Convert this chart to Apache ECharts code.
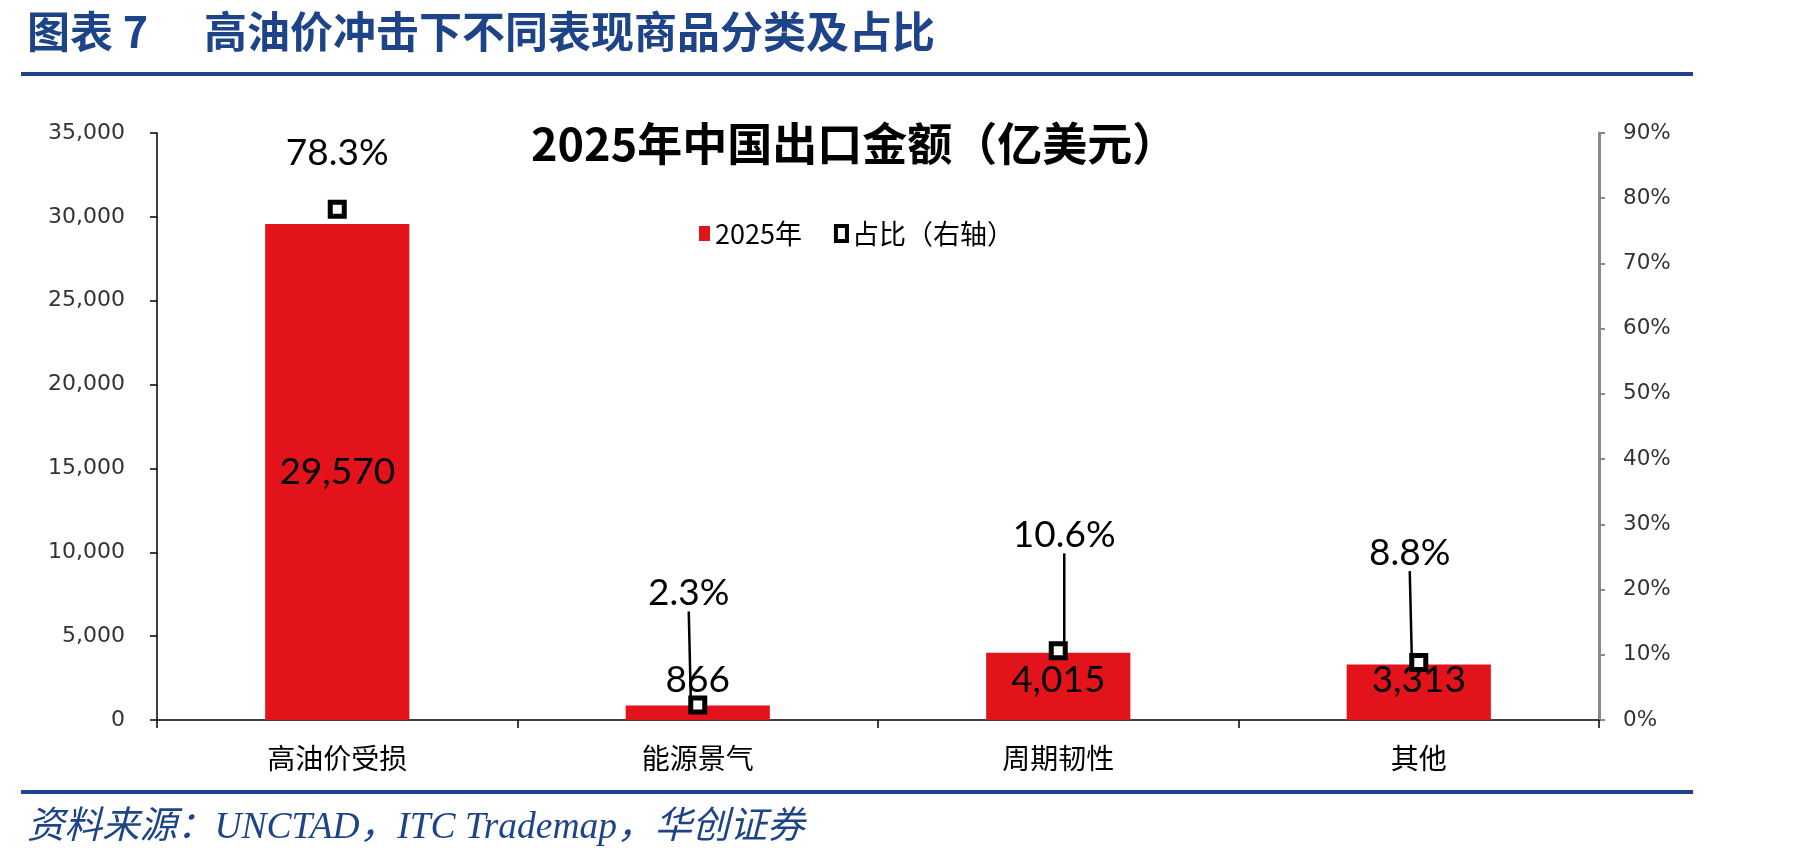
<!DOCTYPE html>
<html>
<head>
	<meta charset="UTF-8">
	<title>高油价冲击下不同表现商品分类及占比</title>
	<style type="text/css">
		html, body {
			margin: 0;
			padding: 0;
			background: #fff;
		}
		#chart {
			width: 1801px;
			height: 861px;
		}
	</style>
</head>
<body>
	<div id="chart"></div>

	<script type="text/javascript" src="https://cdn.jsdelivr.net/npm/echarts@6/dist/echarts.min.js"></script>
	<script type="text/javascript">
		// 数据
		var categories = ['高油价受损', '能源景气', '周期韧性', '其他'];
		var exportValues = [29570, 866, 4015, 3313];      // 2025年出口金额（亿美元）
		var shareValues = [78.3, 2.3, 10.6, 8.8];         // 占比 %
		var leftTicks = [0, 35000, 5000];                 // min, max, interval
		var rightTicks = [0, 90, 10];

		// 标签上移距离（像素）
		var shareLabelLift = [56, 112, 116, 110];
		var shareLabelShift = [0, -9, 6, -9];

		var blue = '#1D4389';
		var chart = echarts.init(document.getElementById('chart'));

		function fmtThousands (v) {
			return String(v).replace(/\B(?=(\d{3})+(?!\d))/g, ',');
		}

		var barData = exportValues.map(function (v, i) {
			if (i === 0) return v;
			return {
				value: v,
				label: { position: 'insideBottom', distance: 21 }
			};
		});

		var shareData = shareValues.map(function (v, i) {
			return {
				value: v,
				labelLine: { show: i !== 0 }
			};
		});

		var option = {
			backgroundColor: '#fff',
			animation: false,
			title: [
				{
					text: '图表 7',
					left: 22,
					top: 5,
					textStyle: {
						fontFamily: 'Noto Sans CJK SC',
						fontWeight: 'bold',
						fontSize: 43,
						color: blue
					}
				},
				{
					text: '高油价冲击下不同表现商品分类及占比',
					left: 199,
					top: 5,
					textStyle: {
						fontFamily: 'Noto Sans CJK SC',
						fontWeight: 'bold',
						fontSize: 43,
						color: blue
					}
				},
				{
					text: '2025年中国出口金额（亿美元）',
					left: 526,
					top: 116,
					textStyle: {
						fontFamily: 'Noto Sans CJK SC',
						fontWeight: 'bold',
						fontSize: 45,
						color: '#000'
					}
				},
				{
					text: '资料来源：UNCTAD，ITC Trademap，华创证券',
					left: 22,
					top: 804,
					textStyle: {
						fontFamily: '"Liberation Serif", "Noto Sans CJK SC"',
						fontStyle: 'italic',
						fontWeight: 'normal',
						fontSize: 37.5,
						color: blue
					}
				}
			],
			graphic: [
				{ type: 'rect', shape: { x: 21, y: 72, width: 1672, height: 4 }, style: { fill: blue } },
				{ type: 'rect', shape: { x: 21, y: 790, width: 1672, height: 4 }, style: { fill: blue } }
			],
			legend: {
				left: 694,
				top: 215,
				itemGap: 32,
				itemWidth: 11,
				itemHeight: 15,
				textStyle: {
					fontFamily: 'Noto Sans CJK SC',
					fontSize: 27,
					color: '#000'
				},
				data: [
					{ name: '2025年', icon: 'rect', itemStyle: { color: '#E3131C' } },
					{ name: '占比（右轴）', icon: 'rect', itemWidth: 15, itemStyle: { color: '#fff', borderColor: '#000', borderWidth: 4 } }
				]
			},
			grid: {
				left: 157,
				right: 202,
				top: 133,
				bottom: 141
			},
			xAxis: {
				type: 'category',
				data: categories,
				axisLine: { lineStyle: { color: '#000', width: 1.5 } },
				axisTick: { show: true, length: 8, lineStyle: { color: '#000', width: 1.5 } },
				axisLabel: {
					margin: 24,
					fontFamily: 'Noto Sans CJK SC',
					fontSize: 28,
					color: '#000'
				}
			},
			yAxis: [
				{
					type: 'value',
					min: leftTicks[0],
					max: leftTicks[1],
					interval: leftTicks[2],
					splitLine: { show: false },
					axisLine: { show: true, lineStyle: { color: '#000', width: 1.5 } },
					axisTick: { show: true, length: 7, lineStyle: { color: '#000', width: 1.5 } },
					axisLabel: {
						margin: 32,
						fontFamily: 'DejaVu Sans',
						fontSize: 22,
						color: '#333',
						formatter: fmtThousands
					}
				},
				{
					type: 'value',
					min: rightTicks[0],
					max: rightTicks[1],
					interval: rightTicks[2],
					splitLine: { show: false },
					axisLine: { show: true, lineStyle: { color: '#8a8a8a', width: 3 } },
					axisTick: { show: true, length: 6, lineStyle: { color: '#8a8a8a', width: 2 } },
					axisLabel: {
						margin: 24,
						fontFamily: 'DejaVu Sans',
						fontSize: 21.5,
						color: '#333',
						formatter: '{value}%'
					}
				}
			],
			series: [
				{
					name: '2025年',
					type: 'bar',
					barWidth: '40%',
					itemStyle: { color: '#E3131C' },
					label: {
						show: true,
						position: 'inside',
						fontFamily: 'Lato',
						fontSize: 37,
						color: '#000',
						formatter: function (p) { return fmtThousands(p.value); }
					},
					data: barData
				},
				{
					name: '占比（右轴）',
					type: 'scatter',
					yAxisIndex: 1,
					symbol: 'rect',
					symbolSize: 14,
					z: 5,
					itemStyle: { color: '#fff', borderColor: '#000', borderWidth: 5, opacity: 1 },
					label: {
						show: true,
						position: 'inside',
						fontFamily: 'Lato',
						fontSize: 37,
						color: '#000',
						formatter: function (p) { return p.value.toFixed(1) + '%'; }
					},
					labelLine: {
						show: true,
						lineStyle: { color: '#000', width: 2.5 }
					},
					labelLayout: function (params) {
						return {
							dx: shareLabelShift[params.dataIndex],
							dy: -shareLabelLift[params.dataIndex]
						};
					},
					data: shareData
				}
			]
		};

		chart.setOption(option);
	</script>
</body>
</html>
